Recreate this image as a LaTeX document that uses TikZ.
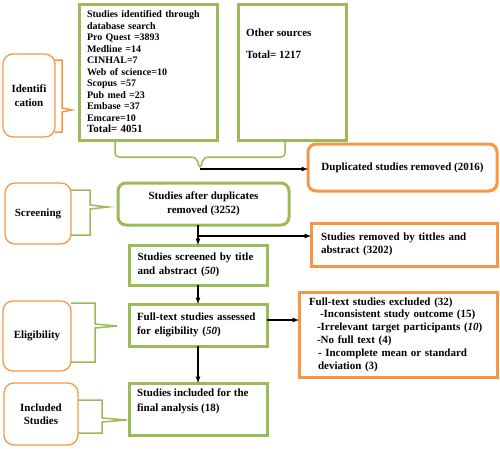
\documentclass[tikz,border=0pt]{standalone}
\usepackage{fontspec}
\setmainfont{Liberation Serif}
\usepackage{xcolor}
\usetikzlibrary{arrows,positioning,calc}
\definecolor{boxgreen}{HTML}{9BBB59}
\definecolor{boxorange}{HTML}{F79646}

\begin{document}
\begin{tikzpicture}

	\tikzset{
	greenblock/.style={draw=boxgreen, line width=3pt, outer sep=0pt, inner xsep=8pt, align=left, font=\bfseries\fontsize{11}{13.5}\selectfont},
	orangeblock/.style={draw=boxorange, line width=3pt, outer sep=0pt, inner xsep=10pt, align=left, font=\bfseries\fontsize{11}{13.5}\selectfont},
	phaseblock/.style={draw=boxorange, line width=1.3pt, rounded corners=10pt, outer sep=0pt, align=center, font=\bfseries\fontsize{11}{13.5}\selectfont},
	greenbracket/.style={draw=boxgreen, line width=1.5pt},
	orangebracket/.style={draw=boxorange, line width=1.5pt},
	arrow/.style={-latex, line width=1.2pt}
	}

	\useasboundingbox (0,0) rectangle (500pt,-448pt);

	% Nodes
	\node[greenblock, text width=122pt, minimum width=138pt, minimum height=136pt, anchor=north west, font=\bfseries\fontsize{10}{11.5}\selectfont] (identified) at (79pt,-4pt) {Studies identified through\\database search\\Pro Quest =3893\\Medline =14\\CINHAL=7\\Web of science=10\\Scopus =57\\Pub med =23\\Embase =37\\Emcare=10\\{\fontsize{11}{12}\selectfont Total= 4051}};
	\node[greenblock, minimum width=108pt, minimum height=136pt, right=21pt of identified] (other_sources) {\parbox[c][120pt][t]{92pt}{\vspace*{17pt}Other sources\\[8.5pt]Total= 1217}};

	\node[greenblock, rounded corners=8pt, align=center, minimum width=171pt, minimum height=42pt, below=43pt of identified, xshift=55.5pt] (after_dup) {Studies after duplicates\\removed (3252)};
	\node[greenblock, text width=121pt, minimum width=138pt, minimum height=40pt, below=20pt of after_dup, xshift=-5.5pt] (screened) {Studies screened by title\\and abstract (\textit{50})};
	\node[greenblock, text width=122pt, minimum width=138pt, minimum height=42pt, below=19pt of screened] (full_text) {Full-text studies assessed\\for eligibility (\textit{50})};
	\node[greenblock, inner ysep=4pt, minimum width=138pt, minimum height=52pt, below=37pt of full_text] (included) {\parbox[c][44pt][t]{122pt}{\vspace*{2pt}Studies included for the\\[1pt]final analysis (18)}};

	\node[orangeblock, rounded corners=8pt, align=center, minimum width=189pt, minimum height=47pt, right=19pt of after_dup, yshift=36.5pt] (dup_removed) {Duplicated studies removed (2016)};
	\node[orangeblock, text width=166pt, minimum width=186pt, minimum height=43pt, right=44pt of screened, yshift=20.5pt] (title_removed) {Studies removed by tittles and\\abstract (3202)};
	\node[orangeblock, text width=178pt, minimum width=198pt, minimum height=85pt, right=32pt of full_text, yshift=-9.5pt, font=\bfseries\fontsize{11}{12.8}\selectfont] (excluded) {Full-text studies excluded (32)\\\hspace*{11pt}-Inconsistent study outcome (15)\\\hspace*{8pt}-Irrelevant target participants (\textit{10})\\\hspace*{8pt}-No full text (4)\\\hspace*{9pt}- Incomplete mean or standard\\\hspace*{9pt}deviation (3)};

	\node[phaseblock, minimum width=52pt, minimum height=83pt, left=24pt of identified, yshift=-23.5pt] (identification) {Identifi\\cation};
	\node[phaseblock, minimum width=66pt, minimum height=61pt, left=47pt of after_dup, yshift=-9.5pt] (screening) {Screening};
	\node[phaseblock, minimum width=68pt, minimum height=70pt, left=58pt of full_text, yshift=-11pt] (eligibility) {Eligibility};
	\node[phaseblock, minimum width=74pt, minimum height=62pt, left=51pt of included, yshift=-5pt] (included_label) {Included\\Studies};

	\coordinate (brace_tip) at ([xshift=121pt, yshift=-29pt]identified.south west);
	\coordinate (split) at ([yshift=-11pt]after_dup.south -| screened.north);

	% Brackets
	\draw[greenbracket, rounded corners=4pt] ([xshift=36pt]identified.south west) |- ([xshift=-4pt, yshift=12pt]brace_tip) -- (brace_tip) -- ([xshift=4pt, yshift=12pt]brace_tip) -| ([xshift=-61pt]other_sources.south east);
	\draw[orangebracket] ([yshift=-6pt]identification.north east) -- ++(7pt,0) -- ++(0,-48pt) -- ++(10pt,-2pt) -- ++(-10pt,-2pt) -- ++(0,-20pt) -- ++(-7pt,0);
	\draw[greenbracket] ([yshift=-7pt]screening.north east) -- ++(19pt,0) -- ++(0,-15pt) -- ++(18pt,-2pt) -- ++(-18pt,-2pt) -- ++(0,-26pt) -- ++(-19pt,0);
	\draw[greenbracket] ([yshift=-2pt]eligibility.north east) -- ++(24pt,0) -- ++(0,-21pt) -- ++(22pt,-2pt) -- ++(-22pt,-2pt) -- ++(0,-34pt) -- ++(-24pt,0);
	\draw[greenbracket] ([yshift=-17pt]included_label.north east) -- ++(24pt,0) -- ++(0,-18pt) -- ++(25pt,-2pt) -- ++(-25pt,-2pt) -- ++(0,-11pt) -- ++(-24pt,0);

	% Lines
	\draw[arrow] (brace_tip) -- (brace_tip -| dup_removed.west);
	\draw[arrow] (after_dup.south -| screened.north) -- (screened.north);
	\draw[arrow] (split) -- (split -| title_removed.west);
	\draw[arrow] (screened.south) -- (full_text.north);
	\draw[arrow] (full_text.south) -- (included.north);
	\draw[arrow] ([yshift=5pt]full_text.east) -- ([yshift=5pt]full_text.east -| excluded.west);

\end{tikzpicture}
\end{document}
